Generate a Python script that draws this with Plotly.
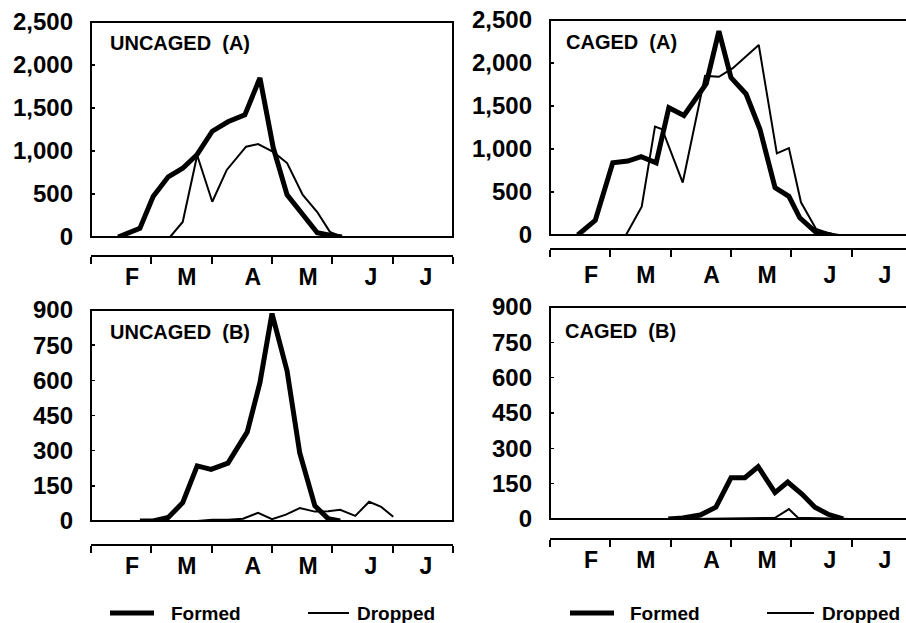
import plotly.graph_objects as go

# ---------------- data (x in months from 1 Feb; y = number of fruit) ----------------
months = ["F", "M", "A", "M", "J", "J"]
month_label_pos = [0.68, 1.59, 2.68, 3.60, 4.64, 5.55]
month_bounds = [0, 1, 2, 3, 4, 5, 6]

ticks_a = [0, 500, 1000, 1500, 2000, 2500]
ticks_b = [0, 150, 300, 450, 600, 750, 900]

# UNCAGED (A)
ua_formed_x = [0.45, 0.65, 0.81, 1.03, 1.28, 1.52, 1.76, 2.01, 2.27, 2.55, 2.80, 3.02, 3.25, 3.50, 3.75, 3.96, 4.16]
ua_formed_y = [0, 50, 100, 470, 700, 800, 960, 1230, 1340, 1420, 1850, 1040, 490, 270, 50, 20, 0]
ua_dropped_x = [1.03, 1.31, 1.52, 1.76, 2.01, 2.25, 2.57, 2.77, 3.02, 3.25, 3.51, 3.75, 3.96, 4.16]
ua_dropped_y = [0, 0, 175, 950, 410, 780, 1050, 1080, 990, 860, 490, 290, 60, 0]

# CAGED (A)
ca_formed_x = [0.46, 0.75, 1.04, 1.29, 1.51, 1.76, 1.97, 2.22, 2.47, 2.59, 2.80, 3.00, 3.25, 3.48, 3.73, 3.96, 4.14, 4.41, 4.66]
ca_formed_y = [0, 170, 840, 860, 910, 840, 1480, 1390, 1640, 1760, 2370, 1830, 1640, 1230, 550, 450, 200, 30, 0]
ca_dropped_x = [0.99, 1.26, 1.52, 1.74, 1.86, 2.20, 2.57, 2.80, 3.03, 3.46, 3.76, 3.96, 4.16, 4.41, 4.62, 4.79]
ca_dropped_y = [0, 0, 330, 1260, 1230, 610, 1850, 1840, 1940, 2210, 950, 1010, 380, 70, 20, 0]

# UNCAGED (B)
ub_formed_x = [0.81, 1.03, 1.28, 1.52, 1.76, 1.99, 2.27, 2.59, 2.80, 3.00, 3.25, 3.46, 3.71, 3.93, 4.13]
ub_formed_y = [0, 0, 15, 78, 235, 220, 247, 380, 590, 885, 640, 290, 65, 10, 0]
ub_dropped_x = [1.56, 1.76, 2.01, 2.27, 2.52, 2.77, 3.00, 3.23, 3.46, 3.71, 3.93, 4.13, 4.38, 4.61, 4.81, 5.01]
ub_dropped_y = [0, 0, 5, 5, 10, 35, 8, 27, 55, 40, 42, 48, 22, 82, 60, 18]

# CAGED (B)
cb_formed_x = [1.96, 2.20, 2.49, 2.75, 3.00, 3.23, 3.45, 3.73, 3.94, 4.18, 4.39, 4.61, 4.86]
cb_formed_y = [0, 4, 17, 50, 175, 175, 222, 112, 157, 105, 50, 20, 0]
cb_dropped_x = [2.32, 3.73, 3.96, 4.11, 4.97]
cb_dropped_y = [0, 5, 42, 5, 0]

series_names = ["Formed", "Dropped"]
line_widths = [5, 2]

panels = [
    ("UNCAGED  (A)", ua_formed_x, ua_formed_y, ua_dropped_x, ua_dropped_y, ticks_a),
    ("CAGED  (A)", ca_formed_x, ca_formed_y, ca_dropped_x, ca_dropped_y, ticks_a),
    ("UNCAGED  (B)", ub_formed_x, ub_formed_y, ub_dropped_x, ub_dropped_y, ticks_b),
    ("CAGED  (B)", cb_formed_x, cb_formed_y, cb_dropped_x, cb_dropped_y, ticks_b),
]

# ---------------- layout geometry ----------------
W, H = 906, 623
FONT = "Liberation Sans"
geom = [
    dict(xd=[91 / W, 453 / W], yd=[1 - 237 / H, 1 - 22 / H], pos=1 - 256 / H, xmax=6.0,
         tx=108 / W, ty=1 - 43.5 / H, boxr=1.0, so=0),
    dict(xd=[550 / W, 1.0], yd=[1 - 235 / H, 1 - 20 / H], pos=1 - 249 / H, xmax=356 / 60.33,
         tx=564 / W, ty=1 - 42.5 / H, boxr=1.1, so=5),
    dict(xd=[91 / W, 453 / W], yd=[1 - 521 / H, 1 - 310 / H], pos=1 - 545 / H, xmax=6.0,
         tx=108 / W, ty=1 - 332 / H, boxr=1.0, so=0),
    dict(xd=[550 / W, 1.0], yd=[1 - 519 / H, 1 - 307 / H], pos=1 - 539 / H, xmax=356 / 60.33,
         tx=563 / W, ty=1 - 331 / H, boxr=1.1, so=0),
]
# legend keys (two groups, below the lower panels): line start/end, text start
legend_groups = [
    [(110 / W, 154 / W, 169 / W), (308 / W, 349 / W, 355 / W)],
    [(570 / W, 614 / W, 628 / W), (767 / W, 814 / W, 820 / W)],
]
legend_y = 1 - 613 / H

fig = go.Figure()
layout = dict(
    width=W, height=H, autosize=False,
    margin=dict(l=0, r=0, t=0, b=0, pad=0),
    paper_bgcolor="white", plot_bgcolor="white",
    font=dict(family=FONT, color="black", weight="bold"),
    showlegend=False,
    shapes=[], annotations=[],
)

for i, (title, fx, fy, dx, dy, yt) in enumerate(panels):
    n = "" if i == 0 else str(i + 1)
    xa, ya = "x" + n, "y" + n
    g = geom[i]
    for (sx, sy), name, lw in zip([(fx, fy), (dx, dy)], series_names, line_widths):
        fig.add_trace(go.Scatter(
            x=sx, y=sy, mode="lines", name=name, xaxis=xa, yaxis=ya,
            line=dict(color="black", width=lw), cliponaxis=False))

    layout["xaxis" + n] = dict(
        domain=g["xd"], range=[0, g["xmax"]], anchor="free", position=g["pos"],
        showline=True, linecolor="black", linewidth=2,
        tickmode="array", tickvals=month_label_pos, ticktext=months,
        ticks="", ticklabelstandoff=g["so"],
        minor=dict(tickmode="array", tickvals=month_bounds, ticks="outside",
                   ticklen=7, tickwidth=2, tickcolor="black"),
        showgrid=False, zeroline=False, fixedrange=True, automargin=False,
        tickfont=dict(family=FONT, size=23, color="black", weight="bold"),
    )
    layout["yaxis" + n] = dict(
        domain=g["yd"], range=[0, yt[-1]], anchor=xa,
        tickmode="array", tickvals=yt, tickformat=",",
        ticks="inside", ticklen=4, tickwidth=1.5, tickcolor="black",
        showline=False, showgrid=False, zeroline=False, fixedrange=True,
        ticklabelstandoff=17, automargin=False,
        tickfont=dict(family=FONT, size=24, color="black", weight="bold"),
    )
    layout["shapes"].append(dict(
        type="rect", xref=xa + " domain", yref=ya + " domain",
        x0=0, x1=g["boxr"], y0=0, y1=1, line=dict(color="black", width=2),
        fillcolor="rgba(0,0,0,0)", layer="above"))
    layout["annotations"].append(dict(
        text=title, xref="paper", yref="paper", x=g["tx"], y=g["ty"],
        xanchor="left", yanchor="middle", showarrow=False,
        font=dict(family=FONT, size=20, color="black", weight="bold")))

for group in legend_groups:
    for (x0, x1, xt), name, lw in zip(group, series_names, line_widths):
        layout["shapes"].append(dict(
            type="line", xref="paper", yref="paper", x0=x0, x1=x1, y0=legend_y, y1=legend_y,
            line=dict(color="black", width=lw)))
        layout["annotations"].append(dict(
            text=name, xref="paper", yref="paper", x=xt, y=legend_y,
            xanchor="left", yanchor="middle", showarrow=False,
            font=dict(family=FONT, size=19, color="black", weight="bold")))

fig.update_layout(**layout)
fig.write_html(
    "out.html",
    config={"displayModeBar": False, "staticPlot": True},
    post_script="document.body.style.margin='0';document.body.style.overflow='hidden';",
)
